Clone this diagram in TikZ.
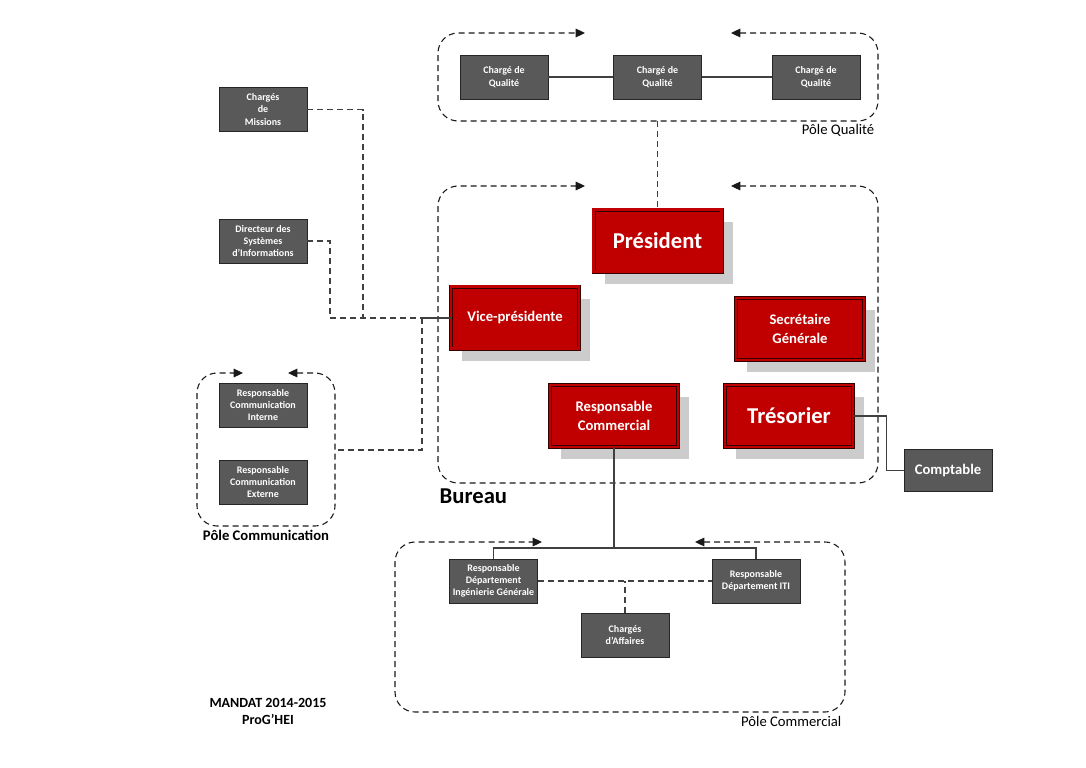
\documentclass[tikz,border=0pt]{standalone}
\usepackage{fontspec}
\setmainfont{Carlito}
\usepackage{tikz}
\usetikzlibrary{positioning, arrows.meta, shadows}

\definecolor{bureaured}{HTML}{C00000}
\definecolor{boxgrey}{HTML}{595959}
\definecolor{linegrey}{HTML}{404040}
\definecolor{shadowgrey}{HTML}{CCCCCC}

\tikzset{
    membre/.style={draw=black!85, fill=boxgrey, line width=0.6pt, text=white,
        font=\fontsize{7.5}{9.2}\selectfont\bfseries, align=center,
        minimum width=66pt, minimum height=33pt, inner sep=1pt},
    bureau/.style={draw=black!80!red, line width=0.6pt, double=bureaured, double distance=1.8pt,
        fill=bureaured, text=white, font=\fontsize{11}{14}\selectfont\bfseries, align=center,
        minimum width=96pt, minimum height=46.5pt, inner sep=1pt,
        general shadow={fill=shadowgrey, shadow xshift=8.5pt, shadow yshift=-9pt}},
    grand/.style={font=\fontsize{17}{20}\selectfont\bfseries},
    pole/.style={<->, dash pattern=on 4.5pt off 3pt, draw=black!90, line width=0.8pt, rounded corners=15pt},
    lien/.style={-, draw=linegrey, line width=0.8pt},
    tiret/.style={-, draw=linegrey, line width=0.8pt, dash pattern=on 4.5pt off 3pt},
    etiquette/.style={font=\fontsize{11}{13}\selectfont}
}

\begin{document}
\begin{tikzpicture}[x=0.75pt, y=-0.75pt, >={Triangle[length=7pt, width=6.5pt]}]
    \useasboundingbox (0,0) rectangle (1086,768);

    % poles
    \draw[pole] (731,33) -- (878,33) -- (878,121) -- (438,121) -- (438,33) -- (585,33);
    \draw[pole] (731,186) -- (878,186) -- (878,483) -- (438,483) -- (438,186) -- (585,186);
    \draw[pole] (288,373) -- (335,373) -- (335,526) -- (197,526) -- (197,373) -- (243,373);
    \draw[pole] (695,542) -- (845,542) -- (845,712) -- (395,712) -- (395,542) -- (542,542);

    \node[etiquette, anchor=east] (lqual) at (879,130) {Pôle Qualité};
    \node[font=\fontsize{17}{20}\selectfont\bfseries, anchor=west] (lbur) at (435,496) {Bureau};
    \node[etiquette, font=\fontsize{11}{13}\selectfont\bfseries] (lcom) at (266,535) {Pôle Communication};
    \node[etiquette, anchor=east] (lcomm) at (846,721) {Pôle Commercial};
    \node[font=\fontsize{10.5}{12.75}\selectfont\bfseries, align=center] (mandat) at (268,711) {MANDAT 2014-2015\\ProG’HEI};

    % pole qualite
    \node[membre] (q1) at (504,77) {Chargé de\\Qualité};
    \node[membre] (q2) at (657.5,77) {Chargé de\\Qualité};
    \node[membre] (q3) at (816,77) {Chargé de\\Qualité};
    \draw[lien] (q1) -- (q2);
    \draw[lien] (q2) -- (q3);

    % bureau
    \node[bureau, grand] (pres) at (657.5,240.5) {Président};
    \node[bureau] (vp) at (515,317.5) {Vice-présidente};
    \node[bureau] (sg) at (800,329) {Secrétaire\\Générale};
    \node[bureau] (rc) at (614,416) {Responsable\\Commercial};
    \node[bureau, grand] (tres) at (789,416) {Trésorier};
    \coordinate (qbas) at (657.5,121);
    \draw[tiret] (qbas) -- (pres.north);

    \node[membre, font=\fontsize{11}{13}\selectfont\bfseries, minimum height=32pt] (compt) at (948,470.5) {Comptable};
    \draw[lien] (tres.east) -- ++(33,0) |- (compt.west);

    % gauche
    \node[membre] (mis) at (263,109.5) {Chargés\\de\\Missions};
    \node[membre] (dsi) at (263,241) {Directeur des\\Systèmes\\d’Informations};
    \node[membre] (rci) at (263,405) {Responsable\\Communication\\Interne};
    \node[membre] (rce) at (263,482) {Responsable\\Communication\\Externe};
    \coordinate (j0) at (330,318);
    \coordinate (j1) at (363,318);
    \coordinate (j2) at (422,318);
    \coordinate (comE) at (335,450);
    \draw[tiret] (mis.east) -| (j1);
    \draw[tiret] (dsi.east) -| (j0) -- (j2);
    \draw[lien] (j2) -- (vp.west |- j2);
    \draw[tiret] (j2) |- (comE);

    % pole commercial
    \node[membre] (rdig) at (493.5,581) {Responsable\\Département\\Ingénierie Générale};
    \node[membre] (iti) at (756,581) {Responsable\\Département ITI};
    \node[membre] (caff) at (625,635) {Chargés\\d’Affaires};
    \coordinate (rcj) at (614,548);
    \draw[lien] (rc.south) -- (rcj);
    \draw[lien] (rdig.north) |- (rcj) -| (iti.north);
    \draw[tiret] (rdig.east) -- (iti.west);
    \draw[tiret] (caff.north) -- (caff.north |- rdig.east);
\end{tikzpicture}
\end{document}
